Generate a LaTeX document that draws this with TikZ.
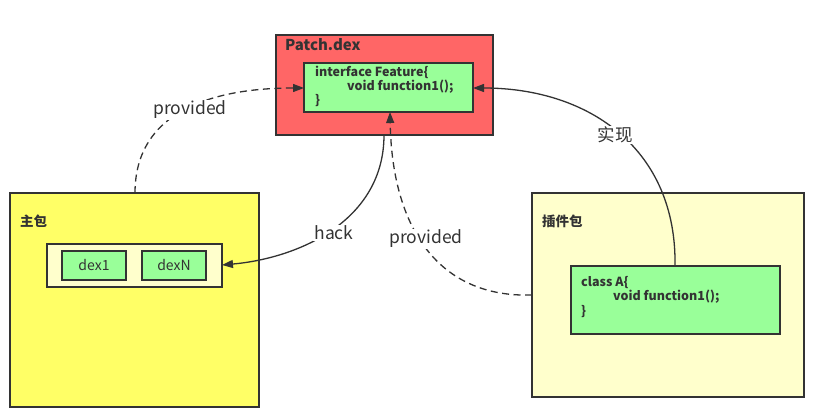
\documentclass[tikz,border=0pt]{standalone}
\usepackage{fontspec}
\setmainfont{Noto Sans CJK SC}
\usetikzlibrary{arrows.meta,positioning}
\definecolor{ln}{HTML}{333333}
\definecolor{redf}{HTML}{FF6666}
\definecolor{greenf}{HTML}{99FF99}
\definecolor{yelf}{HTML}{FFFF66}
\definecolor{ltyf}{HTML}{FFFFCC}
\tikzset{
  box/.style={draw=ln, line width=1.3pt, inner sep=0pt, outer sep=0pt, anchor=north west},
  ttl/.style={text=ln, font=\fontsize{13.5}{15}\selectfont\bfseries, anchor=west, inner sep=0pt},
  code/.style={text=ln, font=\fontsize{12.5}{14}\selectfont\bfseries, anchor=north west, inner sep=0pt, align=left},
  conn/.style={draw=ln, line width=1.3pt, -{Triangle[length=11pt,width=8pt]}},
  plain/.style={draw=ln, line width=1.3pt},
  dsh/.style={dash pattern=on 7pt off 4.5pt},
  lbl/.style={text=ln, fill=white, font=\fontsize{17.5}{19}\selectfont, inner sep=1pt},
  dext/.style={text=ln, font=\fontsize{14}{16}\selectfont}
}
\begin{document}
\begin{tikzpicture}[x=1pt,y=-1pt]
\useasboundingbox (0,0) rectangle (817,420);
% Patch.dex
\node[box, fill=redf, minimum width=217pt, minimum height=100pt] (patch) at (276,35) {};
\node[ttl, font=\fontsize{15}{17}\selectfont\bfseries] (patcht) at (285,45) {Patch.dex};
\node[box, fill=greenf, minimum width=169pt, minimum height=49pt] (feat) at (304,63) {};
\node[code] (featt) at (315,66) {interface Feature\{\\\hspace*{32pt}void function1();\\\}};
% main package
\node[box, fill=yelf, minimum width=249pt, minimum height=214pt] (main) at (10,193) {};
\node[ttl] (maint) at (20,221) {主包};
\node[box, fill=ltyf, minimum width=175pt, minimum height=43pt] (dexc) at (47,244) {};
\node[box, fill=greenf, minimum width=64pt, minimum height=29pt] (dex1) at (62,251) {};
\node[dext] (dex1t) at (dex1.center) {dex1};
\node[box, fill=greenf, minimum width=64pt, minimum height=29pt] (dexN) at (142,251) {};
\node[dext] (dexNt) at (dexN.center) {dexN};
% plugin package
\node[box, fill=ltyf, minimum width=272pt, minimum height=204pt] (plug) at (532,193) {};
\node[ttl] (plugt) at (542,221) {插件包};
\node[box, fill=greenf, minimum width=209pt, minimum height=68pt] (clsA) at (571,266) {};
\node[code, font=\fontsize{12.5}{14.5}\selectfont\bfseries] (clsAt) at (581,276) {class A\{\\\hspace*{32pt}void function1();\\\}};
% anchors for connectors
\coordinate (m1) at (135,193);
\coordinate (p1) at (304,88);
\coordinate (p2) at (384,135);
\coordinate (p3) at (390,112);
\coordinate (p4) at (473,88);
\coordinate (d1) at (222,265);
\coordinate (g1) at (532,295);
\coordinate (c1) at (675,266);
% connectors
\draw[conn, dsh] (m1) .. controls (135,110) and (215,88) .. (p1);
\draw[conn] (p2) .. controls (384,220) and (300,258) .. (d1);
\draw[conn, dsh] (g1) .. controls (440,298) and (392,230) .. (p3);
\draw[conn] (c1) .. controls (677,150) and (590,88) .. (p4);
% labels
\node[lbl] (l1) at (190,110) {provided};
\node[lbl] (l2) at (334,233) {hack};
\node[lbl] (l3) at (426,239) {provided};
\node[lbl] (l4) at (615,135) {实现};
\end{tikzpicture}
\end{document}
